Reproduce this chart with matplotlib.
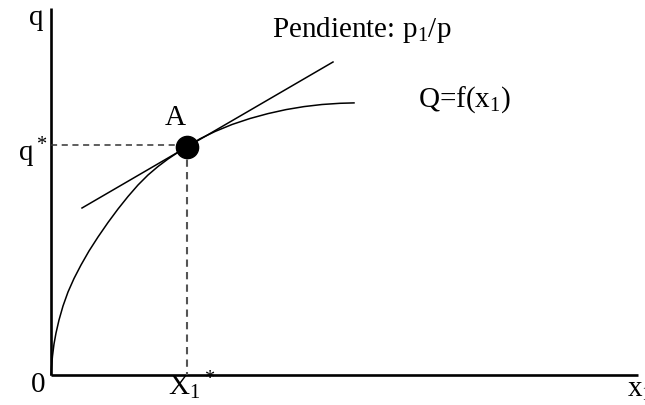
import matplotlib.pyplot as plt

plt.rcParams['font.family'] = ['Liberation Serif', 'DejaVu Serif']
plt.rcParams['mathtext.default'] = 'regular'

# production function Q = f(x1), sampled in pixel space (y grows downward)
curve_x = [51, 51.5, 52.5, 54, 56, 59, 63, 68, 74, 81, 89, 98, 108, 118, 128, 138,
           148, 158, 168, 178, 187, 200, 215, 232, 250, 268, 286, 304, 322, 340, 354]
curve_y = [375, 367, 356, 344, 333, 320, 306, 292, 278.5, 265, 251, 237, 222.5, 209,
           196.5, 185, 175, 166.5, 159, 152.3, 146.5, 138.8, 131.5, 124.5, 118.5,
           113.6, 109.6, 106.6, 104.5, 103.3, 102.9]

# tangent line through A
tangent_x = [82, 333]
tangent_y = [208, 62]

# point A and the origin of the axes
point_a = (187, 146.5)
origin = (51, 375)

fig = plt.figure(figsize=(6.45, 4.05), dpi=100)
ax = fig.add_axes([0, 0, 1, 1])
ax.set_xlim(0, 645)
ax.set_ylim(405, 0)
ax.axis('off')

# axes
ax.plot([origin[0], origin[0]], [8, origin[1]], color='black', lw=1.9, solid_capstyle='butt')
ax.plot([origin[0], 638], [origin[1], origin[1]], color='black', lw=1.9, solid_capstyle='butt')

ax.plot(curve_x, curve_y, color='black', lw=1.1, solid_joinstyle='round')
ax.plot(tangent_x, tangent_y, color='black', lw=1.1)

# guide lines to the axes
ax.plot([origin[0], point_a[0]], [145, 145], color='#333333', lw=1.1,
        linestyle=(0, (4, 3)))
ax.plot([point_a[0], point_a[0]], [point_a[1], origin[1]], color='#555555', lw=1.5,
        linestyle=(0, (3.5, 2.5)))

ax.plot(*point_a, 'o', color='black', markersize=16, zorder=5)

fs = 21
ax.text(36, 18, 'q', fontsize=fs, ha='center', va='center')
ax.text(175, 118, 'A', fontsize=fs, ha='center', va='center')
ax.text(33, 153, 'q$^*$', fontsize=fs, ha='center', va='center')
ax.text(38, 385, '0', fontsize=fs, ha='center', va='center')
ax.text(192, 386, 'X$_1$$^*$', fontsize=fs, ha='center', va='center')
ax.text(627, 390, 'x$_1$', fontsize=fs, ha='left', va='center')
ax.text(272, 30, 'Pendiente: p$_1$/p', fontsize=fs, ha='left', va='center')
ax.text(418, 100, 'Q=f(x$_1$)', fontsize=fs, ha='left', va='center')

fig.savefig('out.png', dpi=100)
